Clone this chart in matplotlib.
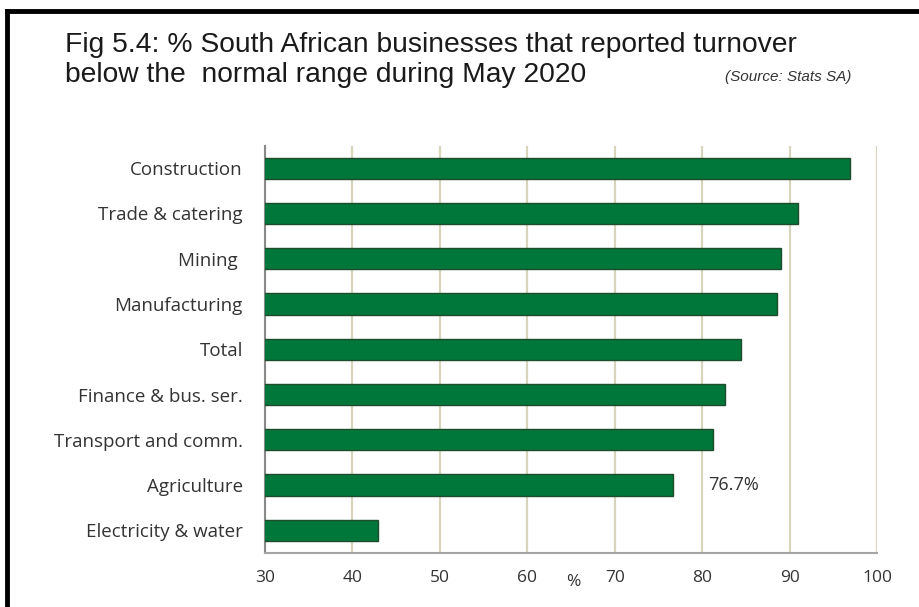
import numpy as np
import matplotlib
matplotlib.use("Agg")
import matplotlib.pyplot as plt
from matplotlib.lines import Line2D

# data: share of businesses with turnover below normal range, May 2020
sectors = ["Construction", "Trade & catering", "Mining ", "Manufacturing", "Total",
           "Finance & bus. ser.", "Transport and comm.", "Agriculture",
           "Electricity & water"]
values = [96.9, 91.0, 89.0, 88.6, 84.5, 82.6, 81.2, 76.7, 42.9]
xticks = [30, 40, 50, 60, 70, 80, 90, 100]

bar_green = "#00773a"
bar_edge = "#1d4d2d"
grid_col = "#d8d4bc"
label_font = "Open Sans"

fig = plt.figure(figsize=(9.19, 6.07), dpi=100)
ax = fig.add_axes([0.2884, 0.0890, 0.6659, 0.6705])

ypos = np.arange(len(sectors))
ax.barh(ypos, values, height=0.47, left=0, color=bar_green,
        edgecolor=bar_edge, linewidth=1.0, zorder=3)

ax.set_xlim(30, 100)
ax.set_ylim(len(sectors) - 0.5, -0.49)
ax.set_xticks(xticks)
ax.set_xticklabels([str(t) for t in xticks], fontsize=12.5, family=label_font,
                   color="#333333")
ax.set_yticks(ypos)
ax.set_yticklabels(sectors, fontsize=13.5, family=label_font, color="#333333")
ax.tick_params(axis="x", length=0, pad=12)
ax.tick_params(axis="y", length=0, pad=16)

ax.grid(axis="x", color=grid_col, linewidth=1.6, zorder=0)
ax.grid(axis="y", visible=False)
for side in ["top", "right"]:
    ax.spines[side].set_visible(False)
ax.spines["left"].set_color("#8a8a8a")
ax.spines["left"].set_linewidth(1.5)
ax.spines["bottom"].set_color("#a5a5a5")
ax.spines["bottom"].set_linewidth(1.5)

# value label for agriculture
ax.text(values[7] + 4.0, ypos[7], "%.1f%%" % values[7], fontsize=13,
        family=label_font, color="#333333", va="center", ha="left")

# axis unit
fig.text(573 / 919, 1 - 582 / 607, "%", fontsize=12.5, family=label_font,
         color="#333333", ha="center", va="center")

# title and source
fig.text(65 / 919, 1 - 45 / 607,
         "Fig 5.4: % South African businesses that reported turnover",
         fontsize=20.3, family="Liberation Sans", color="#1a1a1a",
         ha="left", va="center")
fig.text(65 / 919, 1 - 75 / 607, "below the  normal range during May 2020",
         fontsize=20.3, family="Liberation Sans", color="#1a1a1a",
         ha="left", va="center")
fig.text(851 / 919, 1 - 77 / 607, "(Source: Stats SA)", fontsize=11,
         family="Liberation Sans", style="italic", color="#333333",
         ha="right", va="center")

# frame: top and left edges only
fig.add_artist(Line2D([7 / 919, 7 / 919], [0, 1 - 10.5 / 607],
                      transform=fig.transFigure, color="black", linewidth=3.5,
                      solid_capstyle="projecting"))
fig.add_artist(Line2D([7 / 919, 1], [1 - 10.5 / 607, 1 - 10.5 / 607],
                      transform=fig.transFigure, color="black", linewidth=3.5,
                      solid_capstyle="projecting"))

fig.savefig("out.png", dpi=100)
